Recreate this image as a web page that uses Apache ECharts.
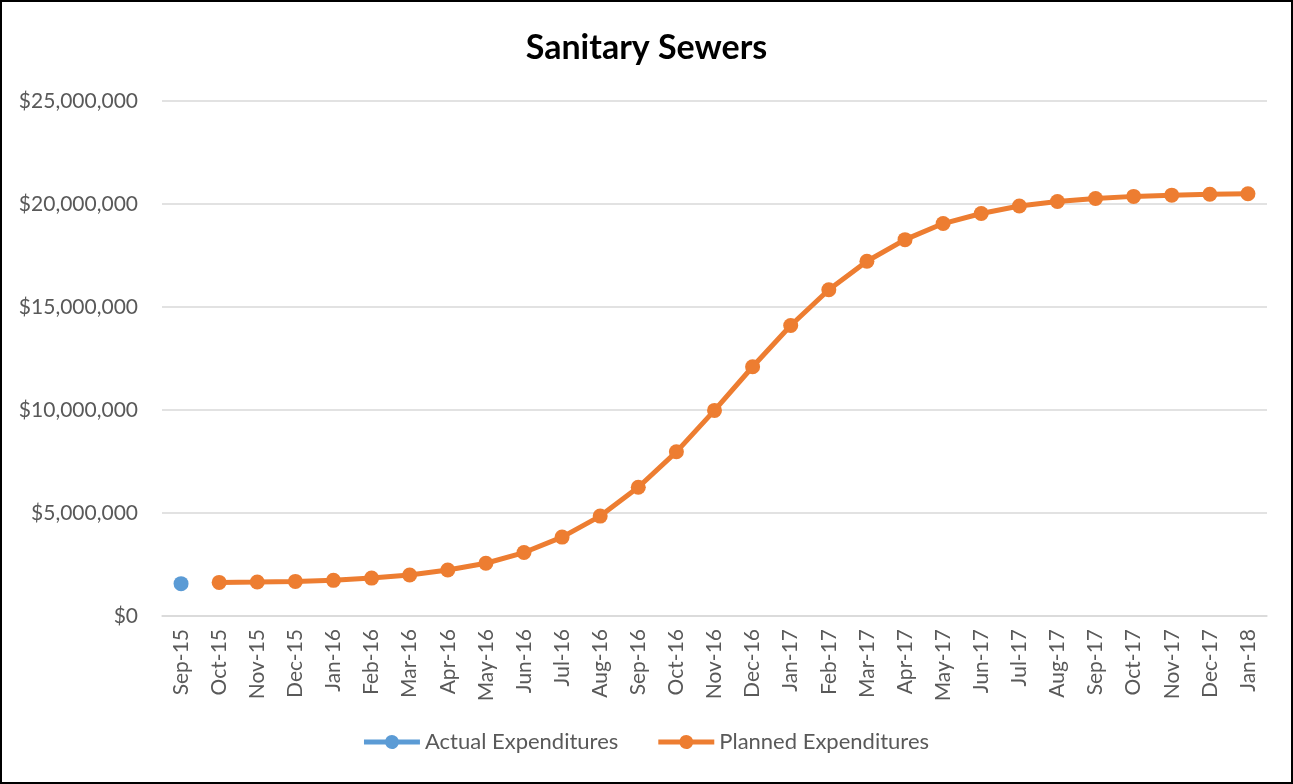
<!DOCTYPE html>
<html>
<head>
<meta charset="utf-8">
<script src="https://cdn.jsdelivr.net/npm/echarts@6/dist/echarts.min.js"></script>
<style>
  html, body { margin: 0; padding: 0; background: #fff; }
  #frame { position: absolute; left: 0; top: 0; width: 1289px; height: 780px; border: 2px solid #000; }
  #chart { position: absolute; left: -2px; top: -2px; width: 1293px; height: 784px; }
</style>
</head>
<body>
<div id="frame"><div id="chart"></div></div>
<script>
// Monthly cumulative expenditures for the sanitary sewer program
const months = ['Sep-15','Oct-15','Nov-15','Dec-15','Jan-16','Feb-16','Mar-16','Apr-16','May-16','Jun-16',
  'Jul-16','Aug-16','Sep-16','Oct-16','Nov-16','Dec-16','Jan-17','Feb-17','Mar-17','Apr-17','May-17',
  'Jun-17','Jul-17','Aug-17','Sep-17','Oct-17','Nov-17','Dec-17','Jan-18'];
const actualExpenditures = [1570000];
const plannedExpenditures = [null, 1630000, 1650000, 1680000, 1730000, 1840000, 1990000, 2230000, 2560000,
  3080000, 3830000, 4850000, 6250000, 7970000, 9980000, 12100000, 14100000, 15840000, 17220000, 18270000,
  19050000, 19540000, 19900000, 20120000, 20270000, 20370000, 20430000, 20470000, 20500000];
const yTicks = { min: 0, max: 25000000, interval: 5000000 };

const blue = '#5B9BD5';
const orange = '#ED7D31';
const font = 'Lato, "Open Sans", "Liberation Sans", sans-serif';
// legend key: a thick line segment with a dot in the middle
const lineDotIcon = 'path://M0,5.5H21.46A7,7 0 0 1 34.54,5.5H56V10.5H34.54A7,7 0 0 1 21.46,10.5H0Z';
const chart = echarts.init(document.getElementById('chart'));

function money(v) {
  return '$' + Math.round(v).toString().replace(/\B(?=(\d{3})+(?!\d))/g, ',');
}

chart.setOption({
  animation: false,
  title: {
    text: 'Sanitary Sewers',
    left: 'center',
    top: 26,
    textStyle: { fontFamily: font, fontSize: 34, fontWeight: 'bold', color: '#000' }
  },
  legend: {
    bottom: 26,
    left: 'center',
    itemWidth: 56,
    itemHeight: 14,
    itemGap: 40,
    icon: lineDotIcon,
    textStyle: { fontFamily: font, fontSize: 22, color: '#595959' },
    data: [
      { name: 'Actual Expenditures', itemStyle: { color: blue } },
      { name: 'Planned Expenditures', itemStyle: { color: orange } }
    ]
  },
  grid: { left: 162, right: 26, top: 101, bottom: 168, containLabel: false },
  xAxis: {
    type: 'category',
    data: months,
    boundaryGap: true,
    axisLine: { show: true, lineStyle: { color: '#d9d9d9', width: 1.5 } },
    axisTick: { show: false },
    axisLabel: { rotate: 90, fontFamily: font, fontSize: 21, color: '#595959', margin: 13, interval: 0 }
  },
  yAxis: {
    type: 'value',
    min: yTicks.min,
    max: yTicks.max,
    interval: yTicks.interval,
    axisLine: { show: false },
    axisTick: { show: false },
    splitLine: { lineStyle: { color: '#d9d9d9', width: 1.5 } },
    axisLabel: { fontFamily: font, fontSize: 21, color: '#595959', margin: 24, formatter: money }
  },
  series: [
    {
      name: 'Actual Expenditures',
      type: 'line',
      data: actualExpenditures,
      symbol: 'circle',
      symbolSize: 15,
      itemStyle: { color: blue },
      lineStyle: { color: blue, width: 5 }
    },
    {
      name: 'Planned Expenditures',
      type: 'line',
      data: plannedExpenditures,
      symbol: 'circle',
      symbolSize: 15,
      itemStyle: { color: orange },
      lineStyle: { color: orange, width: 5 }
    }
  ]
});
</script>
</body>
</html>
